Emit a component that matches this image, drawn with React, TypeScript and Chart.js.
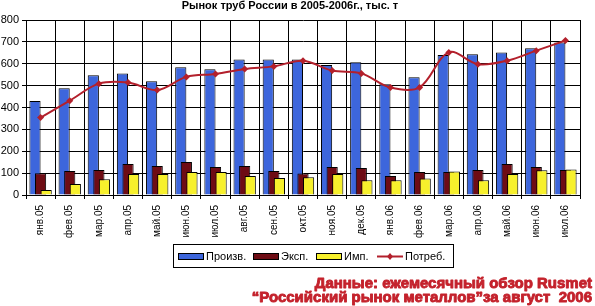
import React, { useEffect, useRef } from 'react';
import { Chart, registerables } from 'chart.js';

Chart.register(...registerables);

const categories = ['янв.05','фев.05','мар.05','апр.05','май.05','июн.05','июл.05','авг.05','сен.05','окт.05','ноя.05','дек.05','янв.06','фев.06','мар.06','апр.06','май.06','июн.06','июл.06'];
const production = [430, 488, 547, 556, 520, 584, 575, 620, 620, 620, 594, 607, 506, 538, 640, 643, 652, 671, 697];
const exportsT = [99, 110, 114, 142, 133, 151, 128, 133, 110, 98, 128, 123, 87, 105, 105, 114, 142, 128, 114];
const importsT = [23, 50, 72, 96, 96, 105, 105, 87, 78, 81, 96, 67, 67, 76, 108, 67, 96, 113, 117];
const consumption = [354, 431, 509, 514, 480, 540, 553, 576, 588, 614, 569, 556, 491, 492, 652, 598, 614, 660, 706];

const seriesLabels = ['Произв.', 'Эксп.', 'Имп.', 'Потреб.'];
const titleText = 'Рынок труб России в 2005-2006г., тыс. т';
const sourceLines = ['Данные: ежемесячный обзор Rusmet', '“Российский рынок металлов”за август  2006'];

const FONT = '"Liberation Sans", Arial, sans-serif';
const BLUE = '#3d66dc';
const DARKRED = '#6e0c14';
const YELLOW = '#f7f02c';
const LINE = '#b3202c';

const barOrderPlugin = {
  id: 'barOrder',
  beforeDatasetsDraw(chart: any) {
    const a = chart.chartArea;
    const ctx = chart.ctx;
    ctx.save();
    ctx.beginPath();
    ctx.rect(a.left, a.top - 2, a.right - a.left, a.bottom - a.top + 4);
    ctx.clip();
    chart.data.datasets.forEach((_ds: any, i: number) => {
      const meta = chart.getDatasetMeta(i);
      if (meta.type === 'bar' && chart.isDatasetVisible(i)) meta.controller.draw();
    });
    ctx.restore();
  },
  beforeDatasetDraw(_chart: any, args: any) {
    if (args.meta.type === 'bar') return false;
    return true;
  },
};

const decorPlugin = {
  id: 'decor',
  afterDraw(chart: any) {
    const ctx = chart.ctx;
    ctx.save();
    // title
    ctx.fillStyle = '#000';
    ctx.font = `bold 11px ${FONT}`;
    ctx.textAlign = 'center';
    ctx.textBaseline = 'alphabetic';
    ctx.fillText(titleText, 290, 9);

    // legend box
    ctx.strokeStyle = '#000';
    ctx.lineWidth = 1;
    ctx.strokeRect(173.5, 244.5, 280, 23);
    const cy = 256;
    const starts = [178, 253, 316, 377];
    const ds = chart.data.datasets;
    ctx.font = `11px ${FONT}`;
    ctx.textAlign = 'left';
    ctx.textBaseline = 'middle';
    ds.forEach((d: any, i: number) => {
      const x = starts[i];
      if (d.type === 'line') {
        ctx.strokeStyle = d.borderColor;
        ctx.lineWidth = 2;
        ctx.beginPath();
        ctx.moveTo(x, cy + 0.5);
        ctx.lineTo(x + 26, cy + 0.5);
        ctx.stroke();
        ctx.fillStyle = d.borderColor;
        ctx.beginPath();
        ctx.moveTo(x + 13, cy - 3);
        ctx.lineTo(x + 16, cy + 0.5);
        ctx.lineTo(x + 13, cy + 4);
        ctx.lineTo(x + 10, cy + 0.5);
        ctx.closePath();
        ctx.fill();
      } else {
        ctx.fillStyle = d.backgroundColor;
        ctx.fillRect(x, cy - 3, 26, 7);
        ctx.strokeStyle = '#000';
        ctx.lineWidth = 1;
        ctx.strokeRect(x + 0.5, cy - 2.5, 25, 6);
      }
      ctx.fillStyle = '#000';
      ctx.fillText(d.label, x + 28, cy + 1);
    });

    // source text
    ctx.fillStyle = '#c4222c';
    ctx.strokeStyle = '#c4222c';
    ctx.lineWidth = 0.9;
    ctx.lineJoin = 'round';
    ctx.font = `bold 15px ${FONT}`;
    ctx.textAlign = 'right';
    ctx.textBaseline = 'alphabetic';
    ctx.fillText(sourceLines[0], 592, 288);
    ctx.strokeText(sourceLines[0], 592, 288);
    ctx.fillText(sourceLines[1], 592, 302);
    ctx.strokeText(sourceLines[1], 592, 302);
    ctx.restore();
  },
};

export default function App() {
  const ref = useRef<HTMLCanvasElement | null>(null);
  useEffect(() => {
    document.body.style.margin = '0';
    const canvas = ref.current!;
    const chart = new Chart(canvas, {
      type: 'bar',
      data: {
        labels: categories,
        datasets: [
          { type: 'bar', label: seriesLabels[0], data: production, backgroundColor: BLUE, borderColor: '#000', borderWidth: 1, barPercentage: 2, categoryPercentage: 0.575 },
          { type: 'bar', label: seriesLabels[1], data: exportsT, backgroundColor: DARKRED, borderColor: '#000', borderWidth: 1, barPercentage: 2, categoryPercentage: 0.575 },
          { type: 'bar', label: seriesLabels[2], data: importsT, backgroundColor: YELLOW, borderColor: '#000', borderWidth: 1, barPercentage: 2, categoryPercentage: 0.575 },
          { type: 'line', label: seriesLabels[3], data: consumption, borderColor: LINE, backgroundColor: LINE, borderWidth: 2, tension: 0.35, pointStyle: 'rectRot', pointRadius: 3.5, pointBorderWidth: 0, pointBackgroundColor: LINE, fill: false } as any,
        ],
      },
      options: {
        animation: false,
        responsive: false,
        maintainAspectRatio: false,
        layout: { padding: { top: 20, left: 0, right: 15, bottom: 66 } },
        plugins: { legend: { display: false }, title: { display: false }, tooltip: { enabled: false } },
        scales: {
          x: {
            grid: { color: '#000', lineWidth: 1, offset: true, tickLength: 4, drawTicks: true },
            border: { color: '#000', width: 1 },
            ticks: { color: '#000', font: { family: FONT, size: 10 }, minRotation: 90, maxRotation: 90, padding: 6, autoSkip: false },
            afterFit: (s: any) => { s.height = 45; },
          },
          y: {
            min: 0,
            max: 800,
            grid: { color: '#000', lineWidth: 1, tickLength: 4 },
            border: { color: '#000', width: 1 },
            ticks: { stepSize: 100, color: '#000', font: { family: FONT, size: 11 }, padding: 3 },
            afterFit: (s: any) => { s.width = 26; },
          },
        },
      },
      plugins: [barOrderPlugin, decorPlugin],
    });
    return () => chart.destroy();
  }, []);
  return <canvas ref={ref} width={595} height={306} style={{ display: 'block', width: 595, height: 306 }} />;
}
